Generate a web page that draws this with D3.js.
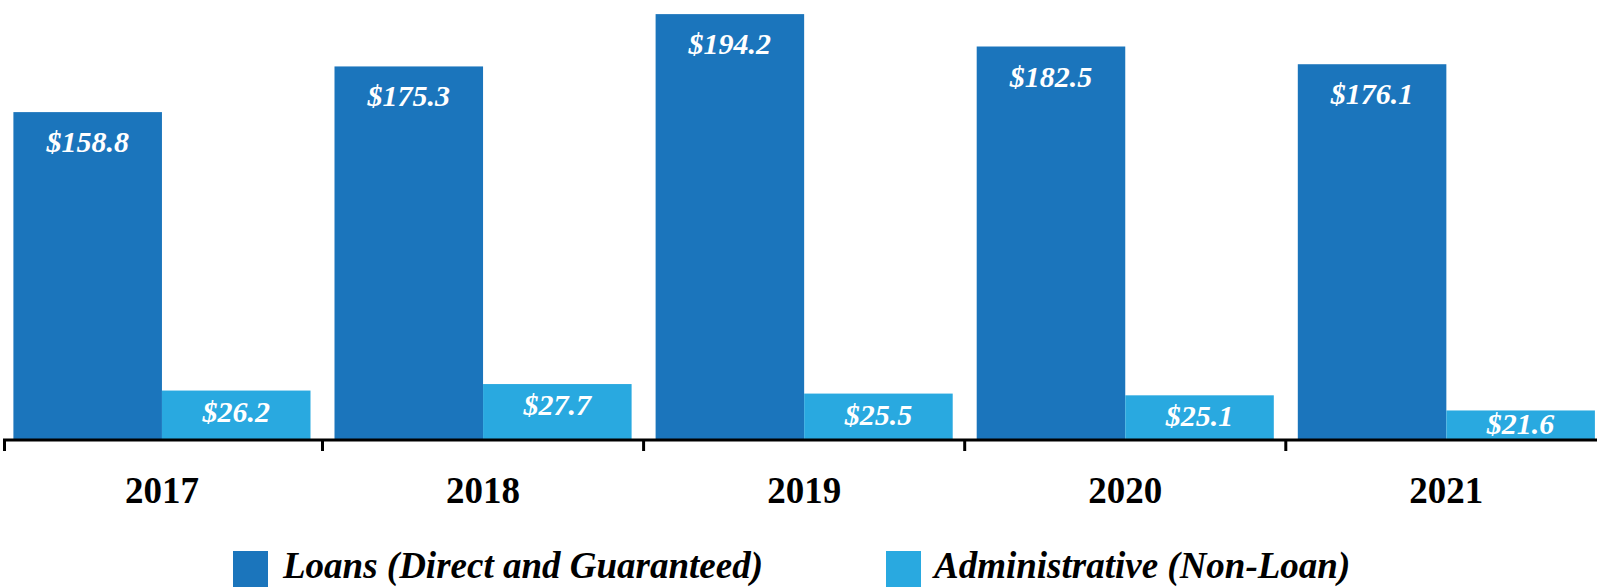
<!DOCTYPE html>
<html>
<head>
<meta charset="utf-8">
<script src="https://cdn.jsdelivr.net/npm/d3@7/dist/d3.min.js"></script>
<style>
  html, body { margin: 0; padding: 0; background: #fff; overflow: hidden; }
  svg { display: block; }
  text { font-family: "Liberation Serif", "Times New Roman", serif; }
</style>
</head>
<body>
<svg id="chart" width="1597" height="587"></svg>
<script>
const years = ["2017", "2018", "2019", "2020", "2021"];
const loans = [158.8, 175.3, 194.2, 182.5, 176.1];
const admin = [26.2, 27.7, 25.5, 25.1, 21.6];
const seriesNames = ["Loans (Direct and Guaranteed)", "Administrative (Non-Loan)"];
const seriesColors = ["#1b75bc", "#29a9e0"];

const W = 1597, H = 587;
const baseline = 440;
const svg = d3.select("#chart");

const x0 = d3.scaleBand().domain(years).range([1.4, 1606.9]).paddingInner(0).paddingOuter(0);
const x1 = d3.scaleBand().domain(["loans", "admin"]).range([12, x0.bandwidth() - 12]);

// The source chart draws each series on its own (non zero-based) scale
const yLoans = d3.scaleLinear().domain([40.35, 199.3]).range([baseline, 0]);
const yAdmin = d3.scaleLinear().domain([14.78, 116.4]).range([baseline, 0]);

const data = years.map((y, i) => ({ year: y, loans: loans[i], admin: admin[i] }));

const g = svg.append("g");
const groups = g.selectAll("g.grp").data(data).join("g")
  .attr("class", "grp")
  .attr("transform", d => `translate(${x0(d.year)},0)`);

// Loans bars
groups.append("rect")
  .attr("x", x1("loans"))
  .attr("width", x1.bandwidth())
  .attr("y", d => yLoans(d.loans))
  .attr("height", d => baseline - yLoans(d.loans))
  .attr("fill", seriesColors[0]);

groups.append("text")
  .attr("x", x1("loans") + x1.bandwidth() / 2)
  .attr("y", d => yLoans(d.loans) + 40)
  .attr("text-anchor", "middle")
  .attr("fill", "#fff")
  .attr("font-size", 30)
  .attr("font-weight", "bold")
  .attr("font-style", "italic")
  .text(d => "$" + d.loans.toFixed(1));

// Admin bars
groups.append("rect")
  .attr("x", x1("admin"))
  .attr("width", x1.bandwidth())
  .attr("y", d => yAdmin(d.admin))
  .attr("height", d => baseline - yAdmin(d.admin))
  .attr("fill", seriesColors[1]);

groups.append("text")
  .attr("x", x1("admin") + x1.bandwidth() / 2)
  .attr("y", d => Math.min(yAdmin(d.admin) + 31, baseline - 6))
  .attr("text-anchor", "middle")
  .attr("fill", "#fff")
  .attr("font-size", 30)
  .attr("font-weight", "bold")
  .attr("font-style", "italic")
  .text(d => "$" + d.admin.toFixed(1));

// Axis line and ticks
const axisStart = 4.5;
g.append("line")
  .attr("x1", axisStart - 1.5).attr("x2", W + 20)
  .attr("y1", baseline).attr("y2", baseline)
  .attr("stroke", "#000").attr("stroke-width", 3);

g.selectAll("line.tick").data(years).join("line")
  .attr("class", "tick")
  .attr("x1", d => Math.max(x0(d), axisStart))
  .attr("x2", d => Math.max(x0(d), axisStart))
  .attr("y1", baseline).attr("y2", baseline + 11)
  .attr("stroke", "#000").attr("stroke-width", 3);

// Year labels
g.selectAll("text.year").data(years).join("text")
  .attr("class", "year")
  .attr("x", d => x0(d) + x0.bandwidth() / 2)
  .attr("y", 503)
  .attr("text-anchor", "middle")
  .attr("font-size", 37)
  .attr("font-weight", "bold")
  .attr("fill", "#000")
  .text(d => d);

// Legend
const legendX = [233, 886];
const leg = svg.selectAll("g.leg").data(seriesNames).join("g")
  .attr("class", "leg")
  .attr("transform", (d, i) => `translate(${legendX[i]},551)`);
leg.append("rect")
  .attr("x", 0).attr("y", 0)
  .attr("width", 35).attr("height", 36)
  .attr("fill", (d, i) => seriesColors[i]);
leg.append("text")
  .attr("x", (d, i) => i === 0 ? 50 : 48)
  .attr("y", 27)
  .attr("font-size", 37)
  .attr("font-weight", "bold")
  .attr("font-style", "italic")
  .attr("fill", "#000")
  .text(d => d);
</script>
</body>
</html>
